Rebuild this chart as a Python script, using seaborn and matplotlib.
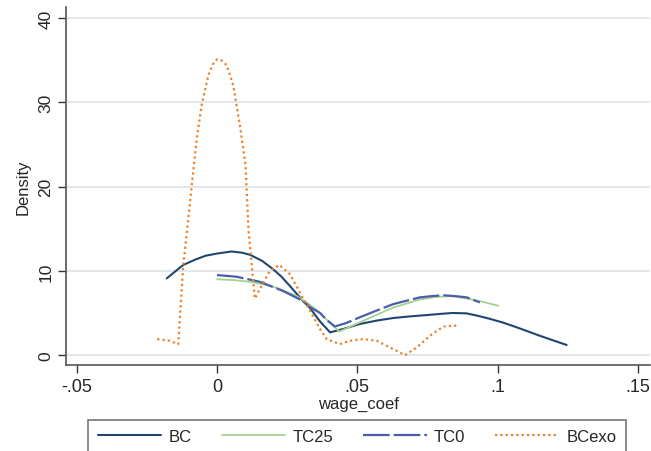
import numpy as np
import pandas as pd
import matplotlib
matplotlib.use("Agg")
import matplotlib.pyplot as plt
import seaborn as sns

# kernel density curves
bc_x = [-0.0179, -0.015, -0.012, -0.008, -0.004, 0.0, 0.0052, 0.009, 0.0118, 0.016,
        0.020, 0.023, 0.026, 0.0307, 0.0331, 0.0367, 0.0403, 0.045, 0.051, 0.057,
        0.0628, 0.0690, 0.0747, 0.080, 0.084, 0.089, 0.0925, 0.0973, 0.102, 0.1068,
        0.115, 0.1246]
bc_y = [9.1, 9.9, 10.7, 11.3, 11.8, 12.05, 12.3, 12.15, 11.9, 11.2,
        10.2, 9.3, 8.2, 6.4, 5.6, 4.0, 2.7, 3.1, 3.7, 4.1,
        4.4, 4.6, 4.75, 4.9, 5.0, 4.95, 4.7, 4.3, 3.85, 3.3,
        2.3, 1.2]

tc25_x = [0.0, 0.006, 0.0118, 0.0165, 0.0213, 0.0285, 0.0330, 0.0367, 0.040, 0.0436,
          0.047, 0.051, 0.057, 0.0628, 0.0723, 0.078, 0.083, 0.0866, 0.090, 0.095,
          0.1003]
tc25_y = [9.0, 8.9, 8.7, 8.4, 8.0, 7.0, 6.0, 5.05, 3.9, 2.8,
          3.3, 3.9, 4.8, 5.65, 6.6, 6.9, 7.0, 6.85, 6.65, 6.3,
          5.85]

tc0_x = [0.0, 0.007, 0.0153, 0.0236, 0.0308, 0.0331, 0.0367, 0.039, 0.042, 0.046,
         0.051, 0.057, 0.0628, 0.0723, 0.0765, 0.0806, 0.085, 0.089, 0.0937]
tc0_y = [9.5, 9.3, 8.7, 7.6, 6.4, 5.7, 5.0, 4.2, 3.4, 3.8,
         4.5, 5.3, 6.05, 6.85, 7.0, 7.1, 7.0, 6.85, 6.25]

bcexo_x = [-0.0213, -0.0168, -0.0138, -0.012, -0.0106, -0.009, -0.0072, -0.0055, -0.0031, -0.0015,
           0.0, 0.0015, 0.0035, 0.0058, 0.0082, 0.0102, 0.0112, 0.0124, 0.0135, 0.0165,
           0.0189, 0.0222, 0.026, 0.0296, 0.0331, 0.0367, 0.0391, 0.0438, 0.0474, 0.0521,
           0.0569, 0.0617, 0.067, 0.0712, 0.0759, 0.0807, 0.0854]
bcexo_y = [1.9, 1.7, 1.3, 10.7, 15.0, 20.1, 25.7, 29.6, 33.2, 34.5,
           35.1, 35.0, 34.4, 32.0, 27.2, 22.5, 15.0, 10.6, 6.7, 8.6,
           10.0, 10.7, 9.6, 7.4, 5.3, 3.1, 1.9, 1.3, 1.7, 1.9,
           1.7, 0.9, 0.0, 0.9, 2.3, 3.4, 3.5]

xticks = [-0.05, 0, 0.05, 0.1, 0.15]
xtick_labels = ["-.05", "0", ".05", ".1", ".15"]
yticks = [0, 10, 20, 30, 40]

sns.set_style("white")
plt.rcParams['font.family'] = ['Liberation Sans', 'DejaVu Sans']

fig = plt.figure(figsize=(6.51, 4.52), dpi=100)
ax = fig.add_axes([0.1014, 0.19, 0.897, 0.792])

series = [
    ("BC", bc_x, bc_y, "#1f4670", (None, None), 1.5),
    ("TC25", tc25_x, tc25_y, "#a5d28c", (None, None), 1.3),
    ("TC0", tc0_x, tc0_y, "#4a5eac", (12, 1.8), 1.6),
    ("BCexo", bcexo_x, bcexo_y, "#e8822c", (1, 1.4), 1.6),
]

handles = []
for name, xs, ys, col, dash, lw in series:
    df = pd.DataFrame({"x": xs, "y": ys})
    sns.lineplot(data=df, x="x", y="y", sort=False, estimator=None, ax=ax,
                 color=col, linewidth=lw, label=name)
    line = ax.lines[-1]
    if dash[0] is not None:
        line.set_dashes(dash)
    handles.append(line)

ax.set_xlim(-0.0538, 0.1543)
ax.set_ylim(-1.19, 41.3)
ax.set_xticks(xticks)
ax.set_xticklabels(xtick_labels)
ax.set_yticks(yticks)
ax.yaxis.grid(True, color="#dce3e8", linewidth=1.2)
ax.xaxis.grid(False)
ax.set_axisbelow(True)

for s in ["top", "right"]:
    ax.spines[s].set_visible(False)
for s in ["left", "bottom"]:
    ax.spines[s].set_color("#555555")
    ax.spines[s].set_linewidth(1.2)

ax.tick_params(axis="both", direction="out", length=6, width=1, color="#333333",
               pad=3, left=True, bottom=True)
ax.tick_params(axis="x", labelsize=13)
ax.tick_params(axis="y", labelsize=12.5)
for lab in ax.get_yticklabels():
    lab.set_rotation(90)
    lab.set_va("center")

ax.set_xlabel("wage_coef", fontsize=12, labelpad=1)
ax.set_ylabel("Density", fontsize=12, labelpad=6)

ax.get_legend().remove()
leg = fig.legend(handles=handles, labels=[s[0] for s in series], ncol=4,
                 loc="upper center", bbox_to_anchor=(357 / 651, 1 - 421 / 452),
                 frameon=True, fancybox=False, fontsize=12, handlelength=3.8,
                 columnspacing=1.8, borderpad=0.55, handletextpad=0.45,
                 borderaxespad=0)
leg.get_frame().set_edgecolor("#555555")
leg.get_frame().set_linewidth(1.2)

fig.savefig("out.png", dpi=100)
